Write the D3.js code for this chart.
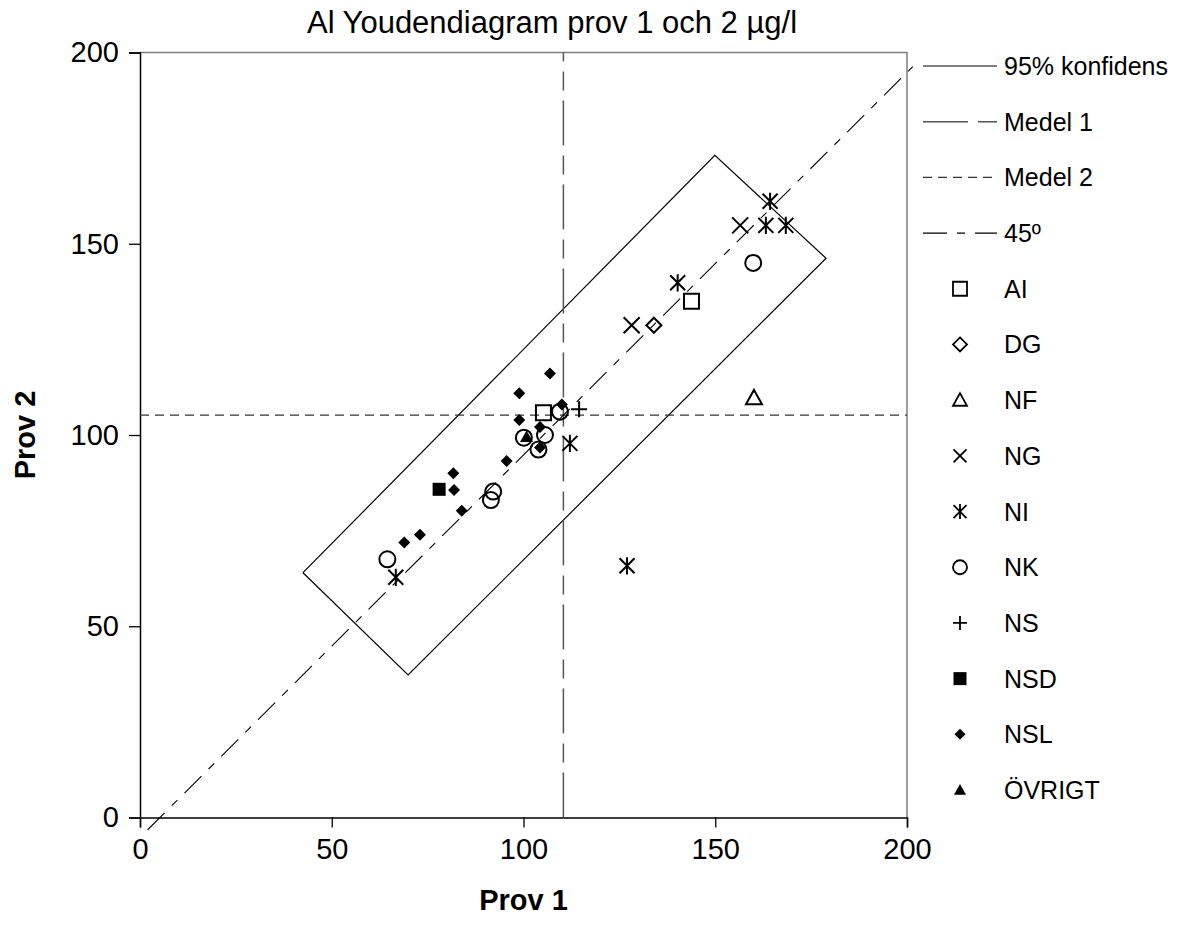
<!DOCTYPE html>
<html>
<head>
<meta charset="utf-8">
<script src="https://cdn.jsdelivr.net/npm/d3@7"></script>
<style>
body { margin: 0; background: #fff; }
text { font-family: "Liberation Sans", Arial, sans-serif; fill: #000; }
</style>
</head>
<body>
<svg id="chart" width="1181" height="938"></svg>
<script>
// axis ticks
var xTicks = [0, 50, 100, 150, 200];
var yTicks = [0, 50, 100, 150, 200];

// reference lines
var medel1 = 110.4;
var medel2 = 105.2;
var konfidens = [[42.5, 64.0], [149.9, 173.1], [178.9, 146.2], [69.9, 37.3]];
var diagonalX = [2, 201.5];

// labs, [prov 1, prov 2]
var ptsAI = [[105.2, 105.8], [143.8, 135.0]];
var ptsDG = [[134.0, 128.7]];
var ptsNF = [[160.1, 109.7]];
var ptsNG = [[156.5, 154.8], [128.2, 128.7]];
var ptsNI = [[164.3, 161.1], [163.2, 154.8], [168.4, 154.8], [140.2, 139.8], [112.1, 97.8], [127.0, 65.8], [66.7, 62.8]];
var ptsNK = [[159.9, 145.0], [109.5, 106.1], [100.1, 99.3], [105.6, 100.0], [103.9, 96.2], [92.1, 85.2], [91.5, 83.0], [64.5, 67.5]];
var ptsNS = [[114.5, 106.7]];
var ptsNSD = [[78.0, 85.8]];
var ptsNSL = [[106.9, 116.1], [98.9, 110.9], [110.0, 108.0], [98.9, 103.9], [104.3, 102.1], [104.3, 96.7], [95.6, 93.2],
  [81.7, 90.0], [81.9, 85.6], [83.9, 80.2], [73.0, 73.9], [68.9, 71.9]];
var ptsOVRIGT = [[100.8, 99.5]];

var lineNames = ['95% konfidens', 'Medel 1', 'Medel 2', '45º'];
var seriesNames = ['AI', 'DG', 'NF', 'NG', 'NI', 'NK', 'NS', 'NSD', 'NSL', 'ÖVRIGT'];

// marker shapes, size is used as half width
var shapes = {
	square: { draw: function(c, r) { c.rect(-r, -r, 2 * r, 2 * r); } },
	diamond: { draw: function(c, r) { c.moveTo(0, -r); c.lineTo(r, 0); c.lineTo(0, r); c.lineTo(-r, 0); c.closePath(); } },
	triangle: { draw: function(c, r) { c.moveTo(0, -r); c.lineTo(r, r * 0.8); c.lineTo(-r, r * 0.8); c.closePath(); } },
	times: { draw: function(c, r) { c.moveTo(-r, -r); c.lineTo(r, r); c.moveTo(-r, r); c.lineTo(r, -r); } },
	asterisk: { draw: function(c, r) { c.moveTo(-r, -r); c.lineTo(r, r); c.moveTo(-r, r); c.lineTo(r, -r); c.moveTo(0, -r * 1.15); c.lineTo(0, r * 1.15); } },
	circle: { draw: function(c, r) { c.moveTo(r, 0); c.arc(0, 0, r, 0, 2 * Math.PI); } },
	plus: { draw: function(c, r) { c.moveTo(-r, 0); c.lineTo(r, 0); c.moveTo(0, -r); c.lineTo(0, r); } }
};

var series = [
	{ data: ptsAI, shape: 'square', r: 7.5, filled: false, lr: 7 },
	{ data: ptsDG, shape: 'diamond', r: 7.5, filled: false, lr: 7 },
	{ data: ptsNF, shape: 'triangle', r: 8, filled: false, lr: 7 },
	{ data: ptsNG, shape: 'times', r: 8, filled: false, lr: 6.5 },
	{ data: ptsNI, shape: 'asterisk', r: 7.5, filled: false, lr: 6.5 },
	{ data: ptsNK, shape: 'circle', r: 8, filled: false, lr: 7 },
	{ data: ptsNS, shape: 'plus', r: 8, filled: false, lr: 7 },
	{ data: ptsNSD, shape: 'square', r: 6.5, filled: true, lr: 6.5 },
	{ data: ptsNSL, shape: 'diamond', r: 6, filled: true, lr: 5.5 },
	{ data: ptsOVRIGT, shape: 'triangle', r: 6.5, filled: true, lr: 6 }
];

var margin = { left: 140, top: 52.5, right: 907, bottom: 817.5 };

var x = d3.scaleLinear().domain([0, 200]).range([margin.left, margin.right]);
var y = d3.scaleLinear().domain([0, 200]).range([margin.bottom, margin.top]);

var svg = d3.select('#chart');

// title
svg.append('text')
	.attr('x', 552).attr('y', 33)
	.attr('text-anchor', 'middle')
	.style('font-size', '31px')
	.text('Al Youdendiagram prov 1 och 2 µg/l');

// plot frame, top and right
svg.append('path')
	.attr('d', 'M' + x(0) + ',' + y(200) + 'H' + x(200) + 'V' + y(0))
	.attr('fill', 'none')
	.attr('stroke', '#808080')
	.attr('stroke-width', 1.5);

// axes
var xAxis = svg.append('g')
	.attr('transform', 'translate(0,' + y(0) + ')')
	.call(d3.axisBottom(x).tickValues(xTicks).tickSize(10).tickPadding(11));
var yAxis = svg.append('g')
	.attr('transform', 'translate(' + x(0) + ',0)')
	.call(d3.axisLeft(y).tickValues(yTicks).tickSize(11).tickPadding(10));

[xAxis, yAxis].forEach(function(g) {
	g.select('.domain').attr('stroke', '#000').attr('stroke-width', 1.5);
	g.selectAll('.tick line').attr('stroke', '#000').attr('stroke-width', 1.3);
	g.selectAll('.tick text')
		.style('font-family', '"Liberation Sans", Arial, sans-serif')
		.style('font-size', '29px')
		.attr('fill', '#000');
});

// axis titles
svg.append('text')
	.attr('x', x(100)).attr('y', 910)
	.attr('text-anchor', 'middle')
	.style('font-size', '29px').style('font-weight', 'bold')
	.text('Prov 1');
svg.append('text')
	.attr('transform', 'translate(35,' + y(100) + ') rotate(-90)')
	.attr('text-anchor', 'middle')
	.style('font-size', '29px').style('font-weight', 'bold')
	.text('Prov 2');

var line = d3.line()
	.x(function(d) { return x(d[0]); })
	.y(function(d) { return y(d[1]); });

var lineStyles = [
	{ stroke: '#000', width: 1.2, dash: null },
	{ stroke: '#555', width: 1.5, dash: '45,10,19,10' },
	{ stroke: '#333', width: 1.1, dash: '9,6' },
	{ stroke: '#000', width: 1.1, dash: '24,10,8,10' }
];

// 95% konfidens
svg.append('path')
	.datum(konfidens.concat([konfidens[0]]))
	.attr('d', line)
	.attr('fill', 'none')
	.attr('stroke', lineStyles[0].stroke)
	.attr('stroke-width', lineStyles[0].width);

// medel 1
svg.append('path')
	.datum([[medel1, 0], [medel1, 200]])
	.attr('d', line)
	.attr('fill', 'none')
	.attr('stroke', lineStyles[1].stroke)
	.attr('stroke-width', lineStyles[1].width)
	.attr('stroke-dasharray', lineStyles[1].dash);

// medel 2
svg.append('path')
	.datum([[0, medel2], [200, medel2]])
	.attr('d', line)
	.attr('fill', 'none')
	.attr('stroke', lineStyles[2].stroke)
	.attr('stroke-width', lineStyles[2].width)
	.attr('stroke-dasharray', lineStyles[2].dash);

// 45 degree line through the medel point
var offset = medel1 - medel2;
svg.append('path')
	.datum(diagonalX.map(function(v) { return [v, v - offset]; }))
	.attr('d', line)
	.attr('fill', 'none')
	.attr('stroke', lineStyles[3].stroke)
	.attr('stroke-width', lineStyles[3].width)
	.attr('stroke-dasharray', lineStyles[3].dash);

// points
series.forEach(function(s) {
	var sym = d3.symbol().type(shapes[s.shape]).size(s.r);
	svg.append('g')
		.selectAll('path')
		.data(s.data)
		.enter()
		.append('path')
		.attr('transform', function(d) { return 'translate(' + x(d[0]) + ',' + y(d[1]) + ')'; })
		.attr('d', sym)
		.attr('fill', s.filled ? '#000' : 'none')
		.attr('stroke', '#000')
		.attr('stroke-width', s.filled ? 0 : 2);
});

// legend
var legendY = d3.scaleLinear().domain([0, 13]).range([66, 790]);
var legend = svg.append('g');

lineNames.forEach(function(name, i) {
	var ly = legendY(i);
	legend.append('line')
		.attr('x1', 923).attr('x2', 997)
		.attr('y1', ly).attr('y2', ly)
		.attr('stroke', lineStyles[i].stroke)
		.attr('stroke-width', lineStyles[i].width)
		.attr('stroke-dasharray', lineStyles[i].dash);
	legend.append('text')
		.attr('x', 1004).attr('y', ly + 9)
		.style('font-size', '25px')
		.text(name);
});

seriesNames.forEach(function(name, i) {
	var s = series[i];
	var ly = legendY(i + 4);
	legend.append('path')
		.attr('transform', 'translate(960,' + ly + ')')
		.attr('d', d3.symbol().type(shapes[s.shape]).size(s.lr))
		.attr('fill', s.filled ? '#000' : 'none')
		.attr('stroke', '#000')
		.attr('stroke-width', s.filled ? 0 : 1.8);
	legend.append('text')
		.attr('x', 1004).attr('y', ly + 9)
		.style('font-size', '25px')
		.text(name);
});
</script>
</body>
</html>
